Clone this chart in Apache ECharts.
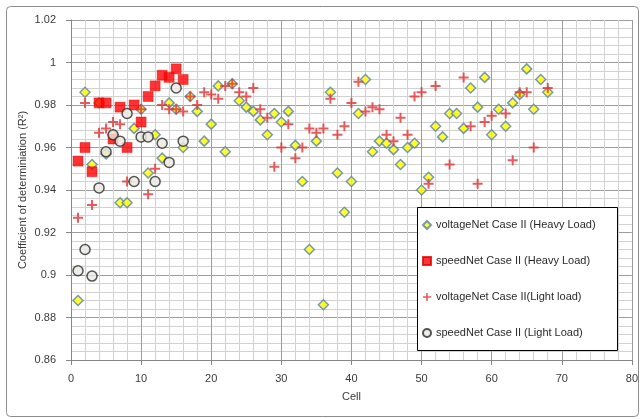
<!DOCTYPE html>
<html>
<head>
<meta charset="utf-8">
<script src="https://cdn.jsdelivr.net/npm/echarts@6/dist/echarts.min.js"></script>
<style>
html,body{margin:0;padding:0;background:#fff;}
#chart{width:641px;height:419px;}
</style>
</head>
<body>
<div id="chart"></div>
<script>
// ---- data ----
var xTicks = [0, 10, 20, 30, 40, 50, 60, 70, 80];
var yTicks = [0.86, 0.88, 0.9, 0.92, 0.94, 0.96, 0.98, 1, 1.02];

var seriesNames = [
  'voltageNet Case II (Heavy Load)',
  'speedNet Case II (Heavy Load)',
  'voltageNet Case II(Light load)',
  'speedNet Case II (Light Load)'
];

var vhCells = [1,2,3,4,5,6,7,8,9,10,11,12,13,14,15,16,17,18,19,20,21,22,23,24,25,26,27,28,29,30,31,32,33,34,35,36,37,38,39,40,41,42,43,44,45,46,47,48,49,50,51,52,53,54,55,56,57,58,59,60,61,62,63,64,65,66,67,68];
var vhValues = [0.888,0.986,0.952,0.981,0.957,0.966,0.934,0.934,0.969,0.978,0.948,0.966,0.955,0.981,0.978,0.960,0.984,0.977,0.963,0.971,0.989,0.958,0.990,0.982,0.979,0.977,0.973,0.966,0.976,0.972,0.977,0.961,0.944,0.912,0.963,0.886,0.986,0.948,0.9295,0.944,0.976,0.992,0.958,0.963,0.962,0.959,0.952,0.960,0.962,0.940,0.946,0.970,0.965,0.976,0.976,0.969,0.988,0.979,0.993,0.966,0.978,0.970,0.981,0.985,0.997,0.978,0.992,0.986];

var shCells = [1,2,3,4,5,6,7,8,9,10,11,12,13,14,15,16];
var shValues = [0.9536,0.960,0.9486,0.981,0.981,0.964,0.979,0.960,0.980,0.972,0.984,0.989,0.994,0.993,0.997,0.992];

var vlCells = [1,2,3,4,5,6,7,8,10,11,12,13,14,15,16,17,18,19,20,21,22,23,24,25,26,27,28,29,30,31,32,33,34,35,36,37,38,39,40,41,42,43,44,45,46,47,48,49,50,51,52,54,56,57,58,59,60,62,63,64,65,66,68];
var vlValues = [0.927,0.981,0.933,0.967,0.969,0.972,0.971,0.944,0.978,0.938,0.950,0.980,0.978,0.978,0.977,0.984,0.980,0.986,0.985,0.983,0.989,0.990,0.986,0.984,0.988,0.978,0.974,0.951,0.960,0.971,0.955,0.960,0.969,0.967,0.969,0.983,0.966,0.970,0.981,0.991,0.977,0.979,0.978,0.966,0.963,0.974,0.966,0.984,0.986,0.943,0.989,0.952,0.993,0.970,0.943,0.972,0.975,0.976,0.954,0.986,0.986,0.960,0.988];

var slCells = [1,2,3,4,5,6,7,8,9,10,11,12,13,14,15,16];
var slValues = [0.902,0.912,0.8995,0.941,0.958,0.966,0.963,0.976,0.944,0.965,0.965,0.944,0.962,0.953,0.988,0.963];

function pairs(xs, ys){ return xs.map(function(x,i){ return [x, ys[i]]; }); }

var plusPath = 'path://M4,0h2v4h4v2h-4v4h-2v-4h-4v-2h4z';
var FONT = 'Liberation Sans';
var TXT = '#3a3a3a';

var chart = echarts.init(document.getElementById('chart'), null, {renderer:'canvas'});
chart.setOption({
  animation: false,
  backgroundColor: '#fff',
  textStyle: {fontFamily: FONT},
  grid: {left: 71, right: 9, top: 20, bottom: 59},
  xAxis: {
    type: 'value', min: xTicks[0], max: xTicks[xTicks.length-1], interval: 10,
    name: 'Cell', nameLocation: 'middle', nameGap: 31, nameMoveOverlap: false,
    nameTextStyle: {fontFamily: FONT, fontSize: 11, color: TXT},
    axisLine: {show: true, lineStyle: {color: '#868686', width: 1}},
    axisTick: {show: true, length: 5, inside: false, lineStyle: {color: '#868686'}},
    axisLabel: {fontFamily: FONT, fontSize: 11, color: TXT, margin: 13},
    splitLine: {show: true, lineStyle: {color: '#9c9c9c', width: 1}},
    minorTick: {show: false, splitNumber: 5},
    minorSplitLine: {show: true, lineStyle: {color: '#d2d2d2', width: 1}}
  },
  yAxis: {
    type: 'value', min: yTicks[0], max: yTicks[yTicks.length-1], interval: 0.02,
    name: 'Coefficient of determiniation (R²)', nameLocation: 'middle', nameGap: 43, nameRotate: 90,
    nameMoveOverlap: false,
    nameTextStyle: {fontFamily: FONT, fontSize: 11, color: TXT},
    axisLine: {show: true, lineStyle: {color: '#868686', width: 1}},
    axisTick: {show: true, length: 5, inside: false, lineStyle: {color: '#868686'}},
    axisLabel: {fontFamily: FONT, fontSize: 11, color: TXT, margin: 15,
      formatter: function(v){ return String(parseFloat(Number(v).toFixed(2))); }},
    splitLine: {show: true, lineStyle: {color: '#9c9c9c', width: 1}},
    minorTick: {show: false, splitNumber: 5},
    minorSplitLine: {show: true, lineStyle: {color: '#d2d2d2', width: 1}}
  },
  legend: {
    orient: 'vertical', left: 422, top: 219, padding: 0,
    itemWidth: 8, itemHeight: 8, itemGap: 24,
    textStyle: {fontFamily: FONT, fontSize: 11, color: '#2a2a2a', lineHeight: 12},
    data: [
      {name: seriesNames[0], icon: 'diamond'},
      {name: seriesNames[1], icon: 'rect'},
      {name: seriesNames[2], icon: plusPath},
      {name: seriesNames[3], icon: 'circle'}
    ],
    z: 10
  },
  graphic: [
    {type: 'rect', left: 4, top: 4, z: -10, silent: true,
      shape: {width: 632, height: 410, r: 4},
      style: {fill: 'none', stroke: '#8c8c8c', lineWidth: 1}},
    {type: 'rect', left: 417, top: 207, z: 5, silent: true,
      shape: {width: 200, height: 143},
      style: {fill: '#ffffff', stroke: '#000000', lineWidth: 1}}
  ],
  series: [
    {name: seriesNames[0], type: 'scatter', data: pairs(vhCells, vhValues),
      symbol: 'diamond', symbolSize: 10,
      itemStyle: {color: '#ffff00', borderColor: '#5a7fa8', borderWidth: 1.5}},
    {name: seriesNames[1], type: 'scatter', data: pairs(shCells, shValues),
      symbol: 'rect', symbolSize: 10,
      itemStyle: {color: '#ff0000', borderColor: '#e00000', borderWidth: 0.5}},
    {name: seriesNames[2], type: 'scatter', data: pairs(vlCells, vlValues),
      symbol: plusPath, symbolSize: 10,
      itemStyle: {color: '#dd3333'}},
    {name: seriesNames[3], type: 'scatter', data: pairs(slCells, slValues),
      symbol: 'circle', symbolSize: 10,
      itemStyle: {color: '#ebe9e1', borderColor: '#2b2b2b', borderWidth: 1.5}}
  ]
});
</script>
</body>
</html>
